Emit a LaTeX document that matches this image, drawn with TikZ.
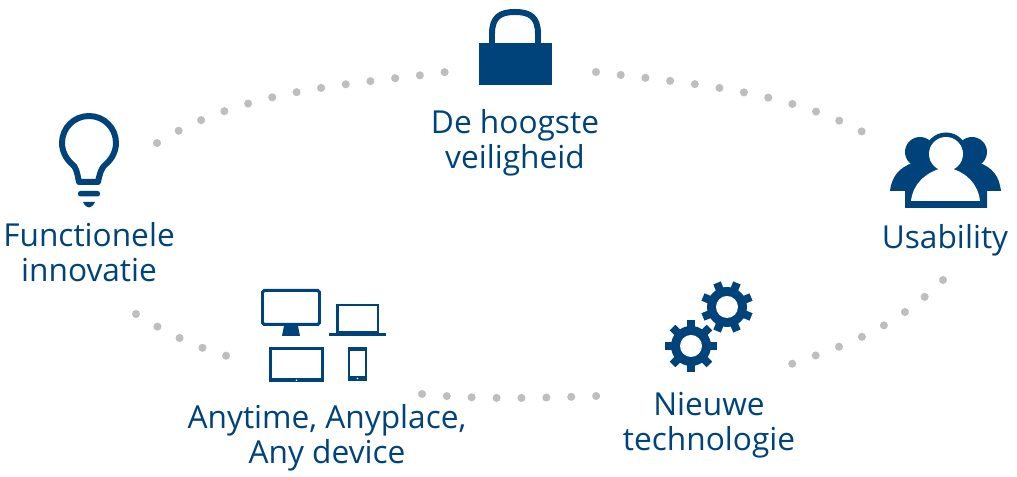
\documentclass[tikz,border=0pt]{standalone}
\usepackage{fontspec}
\setmainfont{Open Sans}
\definecolor{iconblue}{RGB}{0,67,122}
\definecolor{dotgray}{RGB}{190,190,190}
\tikzset{
	label/.style={text=iconblue, font=\fontsize{9}{10}\selectfont, align=center, inner sep=0pt},
	dotlink/.style={dotgray, line width=2.3pt, line cap=round, dash pattern=on 0pt off 7.08pt},
	outline/.style={draw=iconblue, line width=1.7pt},
	thinline/.style={draw=iconblue, line width=0.85pt}
}
\begin{document}
\begin{tikzpicture}[x=0.01cm, y=-0.01cm]
	\useasboundingbox (0, 0) rectangle (1017, 477);
	% dotted links
	\coordinate (lampout) at (157, 143);
	\coordinate (lockin) at (446, 72);
	\coordinate (lockout) at (596, 72);
	\coordinate (usersin) at (880, 142);
	\coordinate (usersout) at (943, 280);
	\coordinate (gearsin) at (790, 364.5);
	\coordinate (gearsout) at (597, 396);
	\coordinate (devicesin) at (422, 394);
	\coordinate (devicesout) at (227, 356);
	\coordinate (lampin) at (136, 314);
	\draw[dotlink] (lampout) .. controls (246, 88) and (350, 85) .. (lockin);
	\draw[dotlink] (lockout) .. controls (693, 84) and (799, 91) .. (usersin);
	\draw[dotlink] (usersout) .. controls (893, 330) and (843, 346) .. (gearsin);
	\draw[dotlink] (devicesin) .. controls (480, 400) and (540, 398) .. (gearsout);
	\draw[dotlink] (lampin) .. controls (165, 332) and (195, 347) .. (devicesout);
	% lock
	\fill[iconblue] (479, 43.5) rectangle (552, 85);
	\draw[outline] (492, 44) -- (492, 34) .. controls (492, 17) and (500, 12) .. (515, 12) .. controls (530, 12) and (538, 17) .. (538, 34) -- (538, 44);
	% lamp
	\draw[outline, line join=round] (79, 182) .. controls (77, 172) and (76, 167) .. (72, 164) .. controls (66, 159) and (62, 151) .. (62, 143) .. controls (62, 128) and (74, 116) .. (89, 116) .. controls (104, 116) and (116, 128) .. (116, 143) .. controls (116, 151) and (112, 159) .. (106, 164) .. controls (102, 167) and (100, 172) .. (98, 182) -- cycle;
	\fill[iconblue, rounded corners=0.7pt] (78, 191) rectangle (100, 196.5);
	\fill[iconblue] (83, 202) -- (95, 202) .. controls (93, 206) and (91, 207.5) .. (89, 207.5) .. controls (87, 207.5) and (85, 206) .. (83, 202) -- cycle;
	% users
	\fill[iconblue] (920, 152) circle (15);
	\fill[iconblue] (972, 152) circle (15);
	\fill[iconblue] (946, 154) circle (21.5);
	\fill[iconblue] (890, 191) .. controls (892, 175) and (900, 168) .. (912, 163) -- (980, 163) .. controls (992, 168) and (999, 175) .. (1001, 191) -- (987, 191) -- (987, 208) -- (905, 208) -- (905, 191) -- cycle;
	\fill[white] (946, 154) circle (17);
	\fill[white] (911, 201) .. controls (913, 184) and (925, 173) .. (942, 168) -- (950, 168) .. controls (967, 173) and (978, 184) .. (980, 201) -- cycle;
	% devices
	\draw[thinline, rounded corners=0.5pt] (262.5, 290.5) rectangle (319.5, 324.5);
	\fill[iconblue] (284, 326) -- (298, 326) -- (300, 336) -- (282, 336) -- cycle;
	\draw[thinline, line width=0.7pt] (337.5, 305) rectangle (378, 332);
	\fill[iconblue] (329, 333) rectangle (386, 336);
	\fill[iconblue] (269, 347) rectangle (324, 382);
	\fill[white] (272, 350) rectangle (321, 378.5);
	\fill[iconblue] (348, 347) rectangle (367, 381);
	\fill[white] (350, 351) rectangle (365, 376);
	\fill[white] (357.5, 378.5) circle (0.9);
	\fill[white] (296.5, 380.3) circle (0.9);
	% gears
	\coordinate (geartop) at (727, 307);
	\coordinate (gearlow) at (691, 346);
	\fill[iconblue] (geartop) circle (20);
	\fill[iconblue] (gearlow) circle (20);
	\foreach \a in {0, 45, ..., 315} {
		\fill[iconblue, shift={(geartop)}, rotate=\a+22.5] (15, -4) rectangle (26, 4);
		\fill[iconblue, shift={(gearlow)}, rotate=\a] (15, -4) rectangle (26, 4);
	}
	\fill[white] (geartop) circle (11);
	\fill[white] (gearlow) circle (11);
	% labels
	\node[label] (locklabel) at (515, 143) {De hoogste\\veiligheid};
	\node[label] (lamplabel) at (89, 252) {Functionele\\innovatie};
	\node[label] (userslabel) at (945, 240) {Usability};
	\node[label] (deviceslabel) at (327, 437.5) {Anytime, Anyplace,\\Any device};
	\node[label] (gearslabel) at (709, 425) {Nieuwe\\technologie};
\end{tikzpicture}
\end{document}
